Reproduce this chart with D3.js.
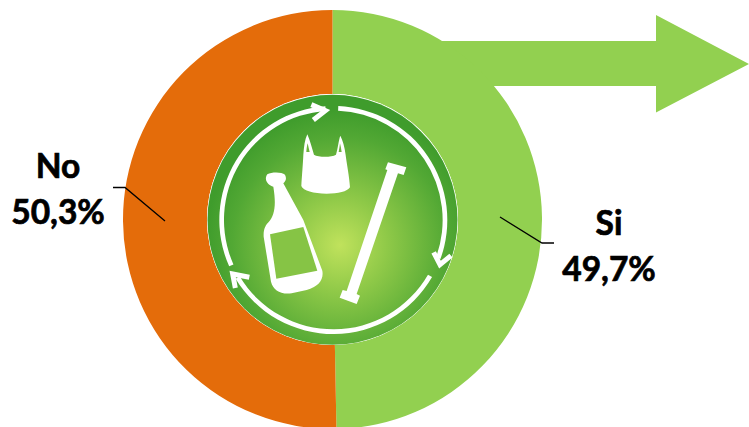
<!DOCTYPE html>
<html><head><meta charset="utf-8">
<script src="https://cdn.jsdelivr.net/npm/d3@7/dist/d3.min.js"></script>
<style>html,body{margin:0;padding:0;background:#fff;overflow:hidden}svg{display:block}</style>
</head><body><svg id="c" width="749" height="427"></svg>
<script>
const categories = ["Si", "No"];
const values = [49.7, 50.3];
const valueLabels = ["49,7%", "50,3%"];
const colors = ["#92D050", "#E46C0A"];

const svg = d3.select("#c");
const cx = 332.5, cy = 219.5, R = 209.5, hole = 125.5;

svg.append("path").attr("fill", colors[0])
  .attr("d", "M438,41H656V15L749,64L656,112.5V86H490Z");

const pie = d3.pie().sort(null).value(d => d)(values);
const arc = d3.arc().innerRadius(hole).outerRadius(R);
const g = svg.append("g").attr("transform", `translate(${cx},${cy})`);
g.selectAll("path.slice").data(pie).join("path").attr("class", "slice")
  .attr("fill", (d, i) => colors[i]).attr("d", arc);

const defs = svg.append("defs");
const grad = defs.append("radialGradient").attr("id", "badge")
  .attr("gradientUnits", "userSpaceOnUse")
  .attr("cx", 340).attr("cy", 245).attr("r", 135);
grad.append("stop").attr("offset", 0).attr("stop-color", "#C0E25C");
grad.append("stop").attr("offset", 0.35).attr("stop-color", "#8FC948");
grad.append("stop").attr("offset", 0.8).attr("stop-color", "#52A834");
grad.append("stop").attr("offset", 1).attr("stop-color", "#3F9C2C");
svg.append("circle").attr("cx", cx).attr("cy", cy).attr("r", hole).attr("fill", "#fff");
svg.append("circle").attr("cx", cx).attr("cy", cy + 0.3).attr("r", 125).attr("fill", "url(#badge)");

const art = svg.append("g").attr("transform", "translate(190,80) scale(0.3333)");
const ring = d3.arc().innerRadius(328).outerRadius(342);
const rad = a => a * Math.PI / 180;
const ringArcs = [[-114, -4], [2.5, 110], [120, 239]];
art.selectAll("path.ring").data(ringArcs).join("path").attr("class", "ring")
  .attr("transform", "translate(430,420)").attr("fill", "#fff")
  .attr("d", d => ring({startAngle: rad(d[0]), endAngle: rad(d[1])}));
const heads = ["M364,74L406,92L370,120", "M731,517L750,554L783,527", "M178,592L128,582L136,624"];
art.selectAll("path.head").data(heads).join("path").attr("class", "head")
  .attr("d", d => d).attr("fill", "none").attr("stroke", "#fff").attr("stroke-width", 15);

// bag
art.append("path").attr("fill", "#fff").attr("d",
  "M352,163C344,180 342,200 340,225C339,250 336,285 334,318C340,332 370,341 410,341C445,341 472,335 480,322C478,290 470,250 467,225C464,200 458,180 451,167C446,180 444,205 438,224C425,232 385,232 372,224C366,205 360,180 352,163Z");
art.append("path").attr("fill", "#6DB43C").attr("d", "M349,216C350,205 351,197 353,190C355,199 357,208 359,216Z");
art.append("path").attr("fill", "#6DB43C").attr("d", "M446,216C448,207 449,198 450,190C452,198 454,207 455,216Z");

// bottle
art.append("path").attr("fill", "#fff").attr("d",
  "M232,283C245,276 275,276 285,284C291,296 287,304 280,310L340,420L397,572C402,600 385,620 350,630L305,640C270,644 250,630 243,605L221,470C220,448 226,436 238,424C252,405 260,380 250,320C235,316 220,300 232,283Z");
art.append("path").attr("fill", "#86C445").attr("d", "M240,463L340,441L382,572L259,596Z");

// straw
art.append("path").attr("fill", "#fff").attr("d",
  "M594,247L649,262L641,285L624,280L500,642L510,647L500,672L449,653L458,630L470,633L592,270L586,268Z");

const leaders = [[[500, 217], [542, 243], [554, 243]], [[165, 221], [125, 187.5], [113, 187.5]]];
const line = d3.line();
svg.selectAll("path.leader").data(leaders).join("path").attr("class", "leader")
  .attr("d", line).attr("fill", "none").attr("stroke", "#000").attr("stroke-width", 1.3);

const labelPos = [[609, 235, 281], [58, 178, 224]];
categories.forEach((c, i) => {
  const [x, y1, y2] = labelPos[i];
  [[c, y1], [valueLabels[i], y2]].forEach(([t, y]) => {
    svg.append("text").text(t).attr("x", x).attr("y", y).attr("text-anchor", "middle")
      .attr("font-family", "Lato, 'Open Sans', sans-serif").attr("font-weight", 700)
      .attr("font-size", 33.5).attr("fill", "#000")
      .attr("stroke", "#000").attr("stroke-width", 0.7);
  });
});
</script></body></html>
